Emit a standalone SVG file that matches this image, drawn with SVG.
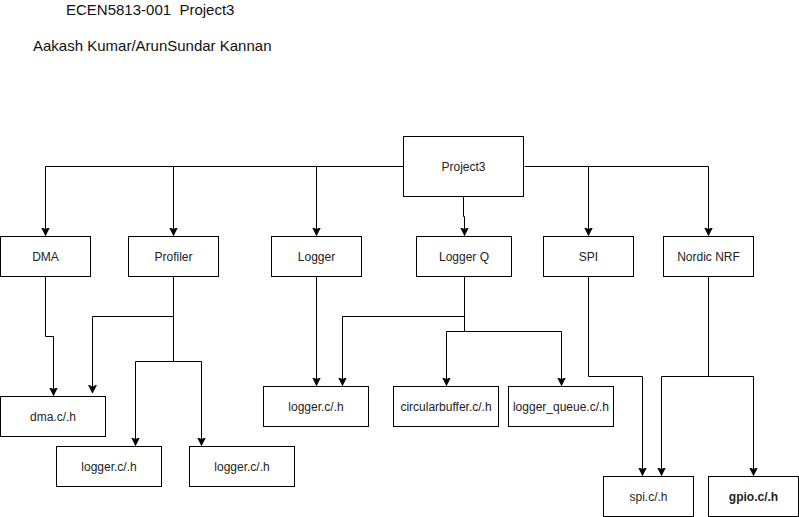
<svg xmlns="http://www.w3.org/2000/svg" width="799" height="517" viewBox="0 0 799 517">
<style>
.box{fill:#fff;stroke:#000;stroke-width:1}
.lbl{font-family:"Liberation Sans",Arial,sans-serif;font-size:12px;fill:#222;text-anchor:middle;dominant-baseline:central}
.title{font-family:"Liberation Sans",Arial,sans-serif;font-size:15px;fill:#111}
.edge{fill:none;stroke:#000;stroke-width:1;marker-end:url(#arr)}
</style>
<defs>
<marker id="arr" markerUnits="userSpaceOnUse" markerWidth="10" markerHeight="10" refX="8" refY="4.5" orient="auto">
<path d="M0,0.5 L8,4.5 L0,8.5 L2,4.5 z" fill="#000" stroke="#000" stroke-width="0.7"/>
</marker>
</defs>
<rect width="799" height="517" fill="#fff"/>
<text class="title" x="66" y="14.5" xml:space="preserve">ECEN5813-001  Project3</text>
<text class="title" x="33" y="50.5">Aakash Kumar/ArunSundar Kannan</text>
<g id="connectors">
<path class="edge" d="M403.5,166.5 H45.5 V235.5"/>
<path class="edge" d="M173.5,166.5 V235.5"/>
<path class="edge" d="M316.5,166.5 V235.5"/>
<path class="edge" d="M463.5,196.5 V216.5 H464.5 V235.5"/>
<path class="edge" d="M524.5,166.5 H708.5 V235.5"/>
<path class="edge" d="M588.5,166.5 V235.5"/>
<path class="edge" d="M45.5,276.5 V336.5 H53.5 V395.5"/>
<path class="edge" d="M173.5,276.5 V316.5 H92.5 V393"/>
<path class="edge" d="M173.5,316.5 V361.5 H135.5 V445.5"/>
<path class="edge" d="M173.5,361.5 H201.5 V445.5"/>
<path class="edge" d="M316.5,276.5 V385.5"/>
<path class="edge" d="M464.5,276.5 V316.5 H342.5 V385.5"/>
<path class="edge" d="M464.5,316.5 V331.5 H446.5 V385.5"/>
<path class="edge" d="M464.5,331.5 H561.5 V385.5"/>
<path class="edge" d="M588.5,276.5 V376.5 H642.5 V475.5"/>
<path class="edge" d="M708.5,276.5 V376.5 H661.5 V475.5"/>
<path class="edge" d="M708.5,376.5 H753.5 V475.5"/>
</g>
<g id="project3"><rect class="box" x="403.5" y="136.5" width="120" height="60"/><text class="lbl" x="463.5" y="166.5">Project3</text></g>
<g id="dma"><rect class="box" x="0.5" y="236.5" width="90" height="40"/><text class="lbl" x="45.5" y="256.5">DMA</text></g>
<g id="profiler"><rect class="box" x="128.5" y="236.5" width="90" height="40"/><text class="lbl" x="173.5" y="256.5">Profiler</text></g>
<g id="logger"><rect class="box" x="271.5" y="236.5" width="90" height="40"/><text class="lbl" x="316.5" y="256.5">Logger</text></g>
<g id="loggerq"><rect class="box" x="416.5" y="236.5" width="95" height="40"/><text class="lbl" x="464" y="256.5">Logger Q</text></g>
<g id="spi"><rect class="box" x="543.5" y="236.5" width="90" height="40"/><text class="lbl" x="588.5" y="256.5">SPI</text></g>
<g id="nordic"><rect class="box" x="663.5" y="236.5" width="90" height="40"/><text class="lbl" x="708.5" y="256.5">Nordic NRF</text></g>
<g id="dmach"><rect class="box" x="0.5" y="396.5" width="105" height="40"/><text class="lbl" x="53" y="416.5">dma.c/.h</text></g>
<g id="loggerch1"><rect class="box" x="56.5" y="446.5" width="105" height="40"/><text class="lbl" x="109" y="466.5">logger.c/.h</text></g>
<g id="loggerch2"><rect class="box" x="189.5" y="446.5" width="105" height="40"/><text class="lbl" x="242" y="466.5">logger.c/.h</text></g>
<g id="loggerch3"><rect class="box" x="263.5" y="386.5" width="105" height="40"/><text class="lbl" x="316" y="406.5">logger.c/.h</text></g>
<g id="circbuf"><rect class="box" x="393.5" y="386.5" width="105" height="40"/><text class="lbl" x="446" y="406.5">circularbuffer.c/.h</text></g>
<g id="loggerqueue"><rect class="box" x="508.5" y="386.5" width="105" height="40"/><text class="lbl" x="561" y="406.5">logger_queue.c/.h</text></g>
<g id="spich"><rect class="box" x="603.5" y="476.5" width="90" height="40"/><text class="lbl" x="648.5" y="496.5">spi.c/.h</text></g>
<g id="gpioch"><rect class="box" x="708.5" y="476.5" width="90" height="40"/><text class="lbl" x="753.5" y="496.5" font-weight="bold">gpio.c/.h</text></g>
</svg>
